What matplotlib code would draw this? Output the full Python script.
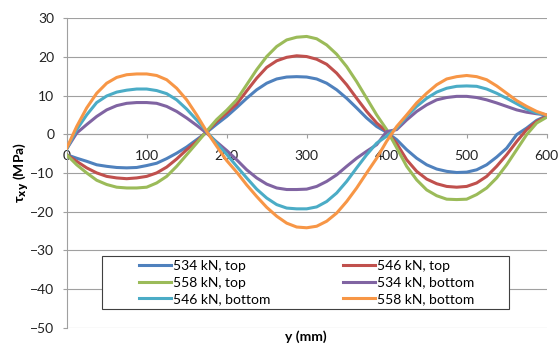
import matplotlib
matplotlib.use("Agg")
import matplotlib.pyplot as plt
from matplotlib.patches import Rectangle

plt.rcParams['font.family'] = ['Lato', 'DejaVu Sans']
plt.rcParams['mathtext.default'] = 'bf'

# y position along the member (mm)
y_mm = [0, 12.5, 25, 37.5, 50, 62.5, 75, 87.5, 100, 112.5, 125, 137.5, 150, 162.5,
        175, 187.5, 200, 212.5, 225, 237.5, 250, 262.5, 275, 287.5, 300, 312.5,
        325, 337.5, 350, 362.5, 375, 387.5, 400, 412.5, 425, 437.5, 450, 462.5,
        475, 487.5, 500, 512.5, 525, 537.5, 550, 562.5, 575, 587.5, 600]

# shear stress tau_xy (MPa)
t534_top = [-5.3, -6.2, -7.0, -7.9, -8.3, -8.6, -8.7, -8.6, -8.1, -7.5, -6.3, -4.9, -3.3,
            -1.4, 0.5, 2.6, 4.6, 6.9, 9.3, 11.5, 13.2, 14.3, 14.8, 14.9, 14.8, 14.3,
            13.2, 11.5, 9.3, 6.8, 4.2, 2.0, 0.5, -1.4, -4.0, -6.2, -7.9, -9.0, -9.6,
            -9.9, -9.8, -9.2, -7.9, -5.9, -3.6, -0.1, 1.6, 3.6, 4.8]
t546_top = [-5.3, -7.0, -8.7, -10.0, -10.9, -11.3, -11.5, -11.3, -10.9, -10.0, -8.5, -6.4,
            -4.0, -1.9, 0.7, 3.3, 5.5, 7.8, 11.2, 14.5, 17.3, 19.0, 19.9, 20.3, 20.1,
            19.4, 18.1, 15.8, 12.8, 9.3, 5.9, 2.9, 0.7, -2.4, -6.6, -9.6, -11.6, -12.8,
            -13.5, -13.7, -13.5, -12.6, -10.9, -8.3, -5.3, -1.9, 1.2, 3.3, 4.6]
t558_top = [-5.3, -7.9, -10.0, -11.9, -13.0, -13.7, -13.9, -13.9, -13.7, -12.6, -10.9, -8.3,
            -5.3, -2.3, 0.8, 3.8, 6.2, 8.9, 12.8, 16.7, 20.1, 22.7, 24.4, 25.1, 25.3,
            24.7, 23.1, 20.7, 17.5, 13.6, 9.3, 5.0, 1.2, -3.5, -8.3, -11.8, -14.4, -15.9,
            -16.8, -16.9, -16.8, -15.6, -13.9, -11.3, -7.9, -4.0, -0.1, 2.9, 4.4]
t534_bot = [-3.8, 0.3, 2.5, 4.6, 6.3, 7.4, 8.0, 8.2, 8.2, 8.0, 7.2, 5.9, 4.2, 2.3, 0.3,
            -2.0, -4.2, -6.6, -9.2, -11.3, -12.9, -13.9, -14.3, -14.3, -14.2, -13.5,
            -12.2, -10.5, -8.3, -6.2, -4.4, -2.7, 0.7, 1.2, 3.7, 5.9, 7.6, 8.9, 9.5,
            9.8, 9.8, 9.5, 8.9, 8.1, 7.2, 6.3, 5.7, 5.3, 5.0]
t546_bot = [-3.8, 1.2, 5.0, 8.2, 9.9, 10.9, 11.4, 11.7, 11.7, 11.3, 10.5, 8.9, 6.5, 3.7,
            0.7, -2.3, -5.2, -8.3, -11.3, -14.2, -16.5, -18.2, -19.1, -19.3, -19.3,
            -18.8, -17.4, -15.2, -12.2, -8.7, -5.3, -2.3, -0.5, 1.6, 4.6, 7.2, 9.3, 10.9,
            11.9, 12.4, 12.5, 12.4, 11.7, 10.6, 9.3, 7.9, 6.5, 5.5, 5.0]
t558_bot = [-3.6, 2.0, 6.8, 10.6, 13.2, 14.7, 15.4, 15.6, 15.6, 15.2, 14.1, 11.9, 8.9, 5.0,
            0.7, -3.1, -6.8, -9.8, -13.1, -16.1, -18.9, -21.2, -23.0, -24.0, -24.2,
            -23.8, -22.5, -20.4, -17.4, -13.9, -10.0, -6.2, -1.8, 2.0, 5.0, 8.1, 10.6,
            12.8, 14.3, 14.9, 15.2, 14.9, 14.1, 12.5, 10.6, 8.7, 7.2, 5.9, 5.0]

series = [
    ("534 kN, top", t534_top, "#4F81BD"),
    ("546 kN, top", t546_top, "#C0504D"),
    ("558 kN, top", t558_top, "#9BBB59"),
    ("534 kN, bottom", t534_bot, "#8064A2"),
    ("546 kN, bottom", t546_bot, "#4BACC6"),
    ("558 kN, bottom", t558_bot, "#F79646"),
]

fig = plt.figure(figsize=(5.58, 3.45), dpi=100)
ax = fig.add_axes([0.1195, 0.0507, 0.8602, 0.8963])

lines = {}
for name, vals, col in series:
    ln, = ax.plot(y_mm, vals, color=col, lw=2.2, label=name, zorder=3,
                  solid_joinstyle="round")
    lines[name] = ln

ax.set_xlim(0, 600)
ax.set_ylim(-50, 30)
ax.set_yticks(range(-50, 31, 10))
ax.set_xticks(range(0, 601, 100))

grey = "#a0a0a0"
ax.yaxis.grid(True, color=grey, lw=0.8)
ax.set_axisbelow(True)
for s in ["top", "right"]:
    ax.spines[s].set_visible(False)
ax.spines["left"].set_color(grey)
ax.spines["bottom"].set_position(("data", 0))
ax.spines["bottom"].set_color(grey)
ax.tick_params(axis="y", length=3, color=grey, pad=6, labelsize=10, labelcolor="#222222")
ax.tick_params(axis="x", length=3, color=grey, pad=8, labelsize=10, labelcolor="#222222")

fig.text(0.5486, 0.024, "y (mm)", ha="center", va="center", fontsize=10, fontweight="bold")
fig.text(0.038, 0.5, r"τ$_{xy}$ (MPa)", ha="center", va="center", rotation=90,
         fontsize=10, fontweight="bold")

# legend box (drawn separately so the padding matches)
ax.add_patch(Rectangle((0.073, 0.06), 0.848, 0.171, transform=ax.transAxes,
                       facecolor="white", edgecolor="#404040", lw=0.8, zorder=4))
order = ["534 kN, top", "558 kN, top", "546 kN, bottom",
         "546 kN, top", "534 kN, bottom", "558 kN, bottom"]
leg = ax.legend([lines[n] for n in order], order, ncol=2, frameon=False,
                loc="center", bbox_to_anchor=(0.5, 0.1455),
                borderpad=0, fontsize=10, handlelength=2.3, handletextpad=0.15,
                labelspacing=0.32, columnspacing=5.2, borderaxespad=0)
leg.set_zorder(5)

fig.savefig("out.png", dpi=100)
